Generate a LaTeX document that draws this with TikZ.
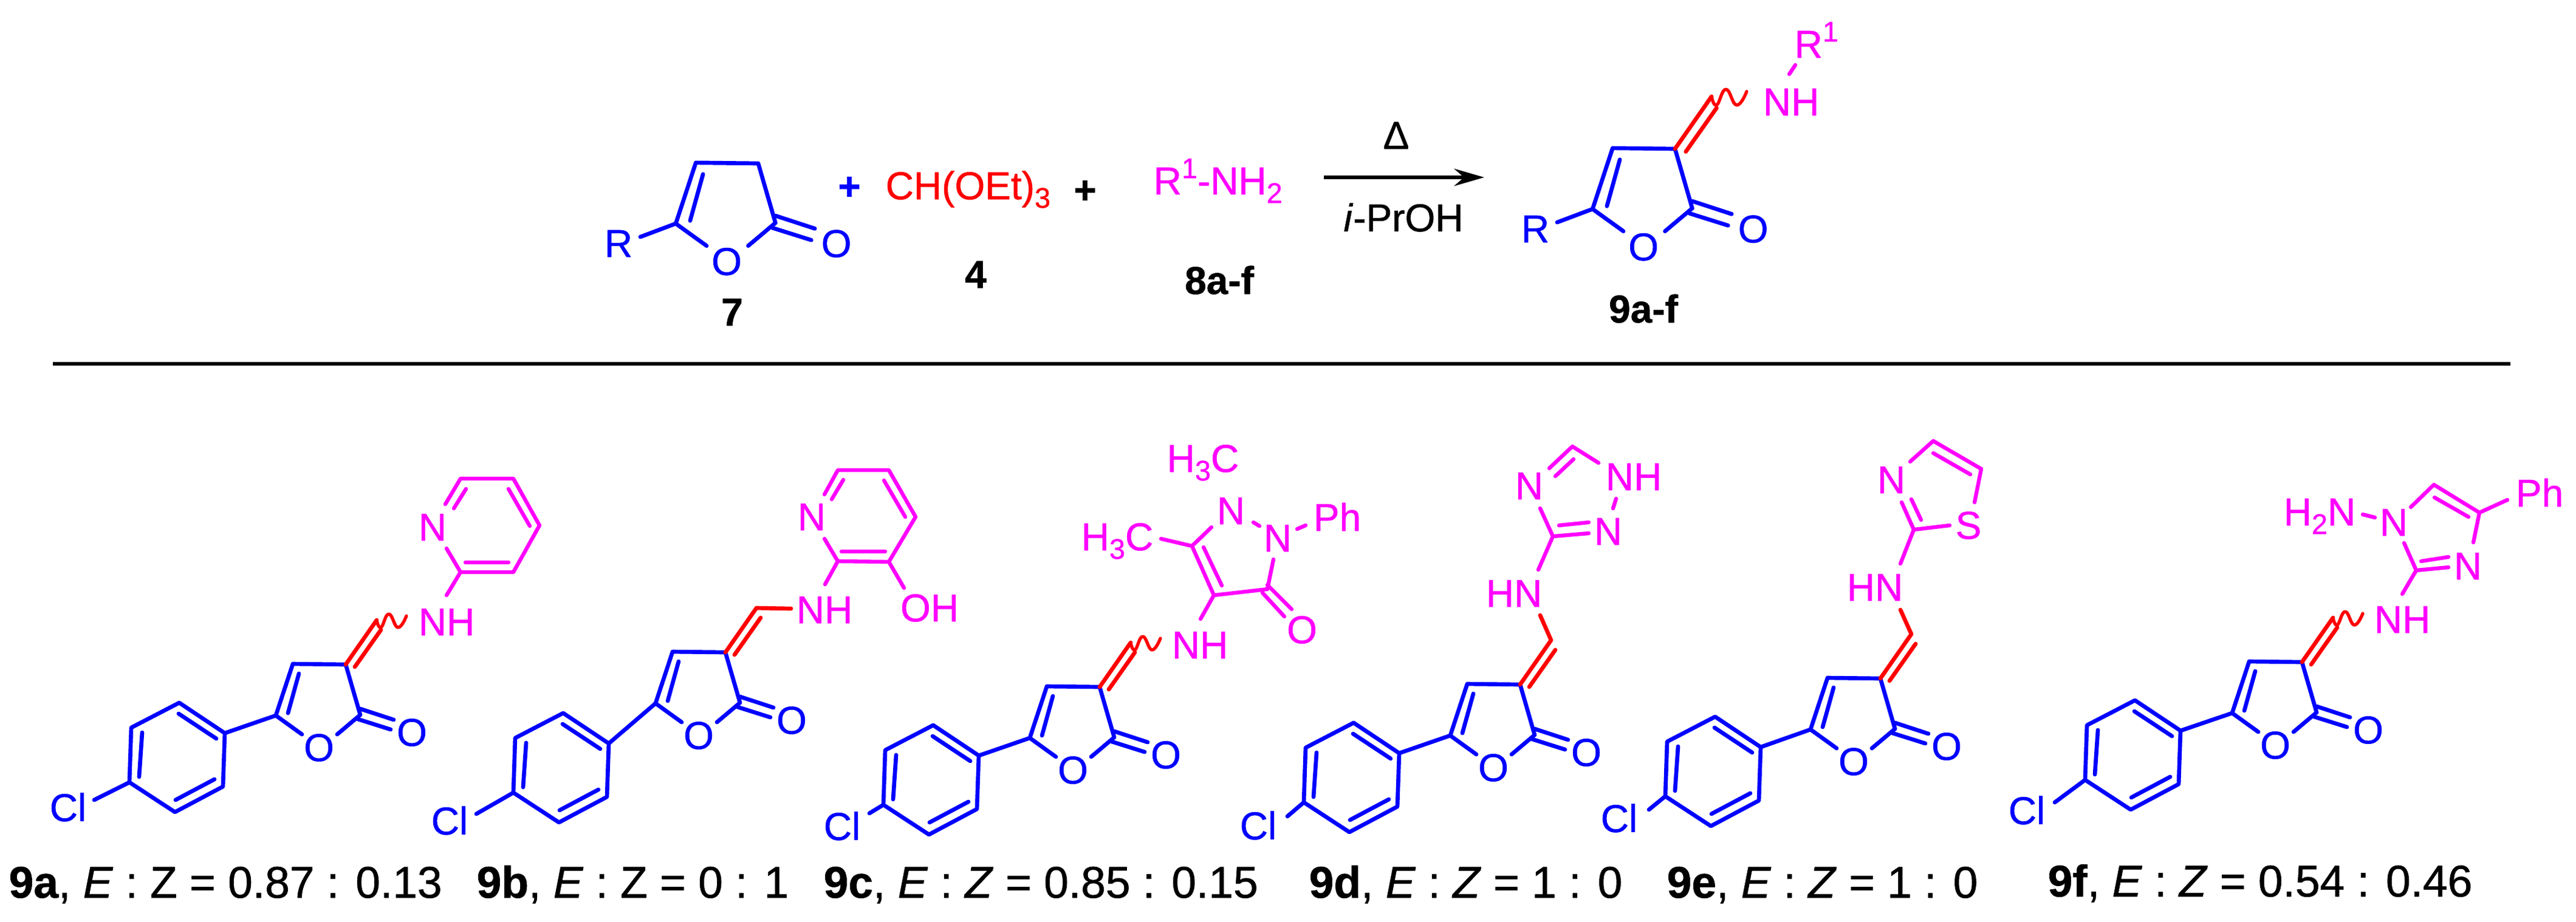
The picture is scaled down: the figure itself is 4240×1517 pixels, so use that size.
\documentclass[tikz,border=0pt]{standalone}
\usepackage{fontspec}
\setmainfont[FakeBold=0.8]{Liberation Sans}
\usetikzlibrary{arrows.meta}
\definecolor{atomblue}{RGB}{0,0,255}
\definecolor{atomred}{RGB}{255,0,0}
\definecolor{atommag}{RGB}{255,0,255}
\newcommand{\subs}[1]{\raisebox{-4pt}{\fontsize{13.3}{14}\selectfont #1}}
\newcommand{\sups}[1]{\raisebox{7.6pt}{\fontsize{13.3}{14}\selectfont #1}}
\tikzset{
	bondb/.style={draw=atomblue, line width=1.9pt},
	bondr/.style={draw=atomred, line width=1.9pt},
	bondm/.style={draw=atommag, line width=1.8pt},
	atomb/.style={text=atomblue, inner sep=0pt, font=\fontsize{18.2}{20}\selectfont},
	atomr/.style={text=atomred, inner sep=0pt, font=\fontsize{18.2}{20}\selectfont},
	atomm/.style={text=atommag, inner sep=0pt, font=\fontsize{18.2}{20}\selectfont},
	compd/.style={inner sep=0pt, anchor=base, font=\fontsize{18.2}{20}\selectfont\bfseries},
	capt/.style={inner sep=0pt, anchor=base west, font=\fontsize{20.8}{22}\selectfont},
	lactone/.pic={
		\path
			(0,0) coordinate (-C3)
			(-87,-1) coordinate (-C4)
			(-115,84) coordinate (-C5)
			(24,83) coordinate (-C2)
		;
		\node[atomb] (-O) at (-44,137) {O};
		\node[atomb] (-Oc) at (109,112) {O};
		\draw[bondb] (-C3)--(-C4)--(-C5)--(-72,115) (-C3)--(-C2)--(-14,115);
		\draw[bondb] (-77,15)--(-95,80) (24,73)--(79,91) (20,90)--(74,107);
	},
	exene/.pic={
		\path (51,-73) coordinate (-exo);
		\draw[bondr] (0,0)--(-exo) (15,4)--(58,-57);
	},
	chlorophenyl/.pic={
		\path
			(0,0) coordinate (-ipso)
			(-75,-50) coordinate (-ot)
			(-154,-9) coordinate (-mt)
			(-157,81) coordinate (-para)
			(-82,130) coordinate (-mb)
			(-3,88) coordinate (-ob)
		;
		\draw[bondb] (-ipso)--(-ot)--(-mt)--(-para)--(-mb)--(-ob)--cycle;
		\draw[bondb] (-76,-32)--(-14,9) (-136,-1)--(-141,72) (-81,110)--(-17,76);
	},
	wavy/.pic={
		\draw[bondr, line width=1.5pt] plot[smooth, tension=.8] coordinates {(0,0) (7,12) (20,-10) (35,12) (49,-7)};
	},
}
\begin{document}
\begin{tikzpicture}[x=0.01cm, y=-0.01cm, line join=round, line cap=round]
	\useasboundingbox (0,0) rectangle (4240,1517);
	% reaction
	\pic[scale=1.18] (sm) at (1248,269) {lactone};
	\node[atomb] (smR) at (1018,401) {R};
	\path (1054,390) coordinate (smRb);
	\draw[bondb] (sm-C5)--(smRb);
	\node[atomb] (plusa) at (1398,310) {\textbf{+}};
	\node[atomr, anchor=base west] (orth) at (1457,328) {CH(OEt)\subs{3}};
	\node[inner sep=0pt, font=\fontsize{18.2}{20}\selectfont] (plusb) at (1786,316) {\textbf{+}};
	\node[atomm, anchor=base west] (amine) at (1898,320) {R\sups{1}-NH\subs{2}};
	\node[inner sep=0pt, font=\fontsize{18.2}{20}\selectfont] (delta) at (2298,223) {Δ};
	\node[inner sep=0pt, font=\fontsize{18.2}{20}\selectfont] (solv) at (2310,358) {\textit{i}-PrOH};
	\path (2179,292) coordinate (arrL) (2443,292) coordinate (arrR);
	\draw[-{Stealth[length=14pt, width=8pt]}, line width=1.9pt, line cap=butt] (arrL)--(arrR);
	\pic[scale=1.18] (pr) at (2757,245) {lactone};
	\pic[scale=1.18] (prx) at (2757,245) {exene};
	\pic[scale=1.18] at (prx-exo) {wavy};
	\node[atomb] (prR) at (2527,377) {R};
	\path (2563,366) coordinate (prRb);
	\draw[bondb] (pr-C5)--(prRb);
	\node[atomm] (prNH) at (2948,168) {NH};
	\node[atomm, anchor=base west] (prRa) at (2953,95) {R\sups{1}};
	\path (2945,122) coordinate (prb) (2955,107) coordinate (prc);
	\draw[bondm] (prb)--(prc);
	\node[compd] (lab7) at (1205,536) {7};
	\node[compd] (lab4) at (1606,474) {4};
	\node[compd] (lab8) at (2007,484) {8a-f};
	\node[compd] (lab9) at (2705,531) {9a-f};
	\path (87,599) coordinate (ruleL) (4132,599) coordinate (ruleR);
	\draw[line width=1.9pt, line cap=butt] (ruleL)--(ruleR);
	% 9a
	\pic (a) at (569,1094) {lactone};
	\pic (ax) at (569,1094) {exene};
	\pic at (ax-exo) {wavy};
	\pic (ap) at (370,1207) {chlorophenyl};
	\draw[bondb] (a-C5)--(ap-ipso);
	\node[atomb] (aCl) at (112,1329) {Cl};
	\path (155,1317) coordinate (aClb);
	\draw[bondb] (ap-para)--(aClb);
	\node[atomm] (aNH) at (735,1024) {NH};
	\node[atomm] (aN) at (712,868) {N};
	\path
		(758,942) coordinate (aC2)
		(758,788) coordinate (aC6)
		(845,788) coordinate (aC5)
		(888,865) coordinate (aC4)
		(845,942) coordinate (aC3)
	;
	\draw[bondm] (735,980)--(aC2) (735,903)--(aC2)--(aC3)--(aC4)--(aC5)--(aC6)--(733,830);
	\draw[bondm] (747,837)--(767,805) (766,926)--(837,926) (837,805)--(872,866);
	\node[capt] (capa) at (14,1478) {\textbf{9a}, \textit{E} : Z = 0.87 : 0.13};
	% 9b
	\pic (b) at (1194,1074) {lactone};
	\pic (bx) at (1194,1074) {exene};
	\pic (bp) at (1002,1224) {chlorophenyl};
	\draw[bondb] (b-C5)--(bp-ipso);
	\node[atomb] (bCl) at (740,1351) {Cl};
	\path (784,1340) coordinate (bClb);
	\draw[bondb] (bp-para)--(bClb);
	\path (1302,1002) coordinate (bex);
	\draw[bondr] (bx-exo)--(bex);
	\node[atomm] (bNH) at (1357,1004) {NH};
	\node[atomm] (bN) at (1336,851) {N};
	\node[atomm] (bOH) at (1530,1001) {OH};
	\path
		(1379,924) coordinate (bC2)
		(1379,774) coordinate (bC6)
		(1463,774) coordinate (bC5)
		(1507,851) coordinate (bC4)
		(1463,925) coordinate (bC3)
	;
	\draw[bondm] (1358,962)--(bC2) (1357,887)--(bC2)--(bC3)--(bC4)--(bC5)--(bC6)--(1357,814) (bC3)--(1488,968);
	\draw[bondm] (1369,822)--(1388,790) (1385,908)--(1457,908) (1455,791)--(1490,851);
	\node[capt] (capb) at (784,1478) {\textbf{9b}, \textit{E} : Z = 0 : 1};
	% 9c
	\pic (c) at (1810,1131) {lactone};
	\pic (cx) at (1810,1131) {exene};
	\pic at (cx-exo) {wavy};
	\pic (cp) at (1611,1244) {chlorophenyl};
	\draw[bondb] (c-C5)--(cp-ipso);
	\node[atomb] (cCl) at (1386,1360) {Cl};
	\path (1431,1339) coordinate (cClb);
	\draw[bondb] (cp-para)--(cClb);
	\node[atomm] (cNH) at (1975,1062) {NH};
	\node[atomm] (cNa) at (2026,841) {N};
	\node[atomm] (cNb) at (2103,886) {N};
	\node[atomm] (cO) at (2143,1037) {O};
	\node[atomm] (cPh) at (2201,851) {Ph};
	\node[atomm, anchor=base west] (cMea) at (1779,906) {H\subs{3}C};
	\node[atomm, anchor=base west] (cMeb) at (1920,777) {H\subs{3}C};
	\path
		(1998,980) coordinate (cC4)
		(2086,970) coordinate (cC3)
		(1962,899) coordinate (cC5)
	;
	\draw[bondm] (1976,1019)--(cC4)--(cC3)--(2096,921) (cC4)--(cC5)--(1994,868) (cC5)--(1911,887);
	\draw[bondm] (2063,860)--(2073,866) (2135,871)--(2149,865);
	\draw[bondm] (1981,901)--(2011,964) (2086,963)--(2126,1003) (2078,976)--(2114,1015);
	\node[capt] (capc) at (1355,1478) {\textbf{9c}, \textit{E} : \textit{Z} = 0.85 : 0.15};
	% 9d
	\pic (d) at (2502,1127) {lactone};
	\pic (dx) at (2502,1127) {exene};
	\pic (dp) at (2303,1240) {chlorophenyl};
	\draw[bondb] (d-C5)--(dp-ipso);
	\node[atomb] (dCl) at (2071,1359) {Cl};
	\path (2119,1344) coordinate (dClb);
	\draw[bondb] (dp-para)--(dClb);
	\path (2535,1013) coordinate (dex);
	\draw[bondr] (dx-exo)--(dex);
	\node[atomm] (dHN) at (2492,977) {HN};
	\node[atomm] (dNa) at (2517,800) {N};
	\node[atomm] (dNH) at (2689,785) {NH};
	\node[atomm] (dNb) at (2647,875) {N};
	\path (2556,883) coordinate (dC3) (2588,735) coordinate (dC5);
	\draw[bondm] (2532,938)--(dC3)--(2535,837) (dC3)--(2615,878) (2566,865)--(2615,860);
	\draw[bondm] (2660,821)--(2655,837) (2550,771)--(dC5)--(2631,762) (2590,756)--(2560,784);
	\node[capt] (capd) at (2154,1478) {\textbf{9d}, \textit{E} : \textit{Z} = 1 : 0};
	% 9e
	\pic (e) at (3095,1117) {lactone};
	\pic (ex) at (3095,1117) {exene};
	\pic (ep) at (2898,1230) {chlorophenyl};
	\draw[bondb] (e-C5)--(ep-ipso);
	\node[atomb] (eCl) at (2665,1347) {Cl};
	\path (2714,1333) coordinate (eClb);
	\draw[bondb] (ep-para)--(eClb);
	\path (3128,1004) coordinate (eex);
	\draw[bondr] (ex-exo)--(eex);
	\node[atomm] (eHN) at (3086,967) {HN};
	\node[atomm] (eN) at (3113,790) {N};
	\node[atomm] (eS) at (3240,865) {S};
	\path (3150,872) coordinate (eC2) (3182,726) coordinate (eC4) (3261,772) coordinate (eC5);
	\draw[bondm] (3128,928)--(eC2)--(3130,827) (eC2)--(3209,865) (3162,856)--(3146,822);
	\draw[bondm] (3144,760)--(eC4)--(eC5)--(3250,827) (3182,746)--(3243,781);
	\node[capt] (cape) at (2743,1478) {\textbf{9e}, \textit{E} : \textit{Z} = 1 : 0};
	% 9f
	\pic (f) at (3789,1090) {lactone};
	\pic (fx) at (3789,1090) {exene};
	\pic at (fx-exo) {wavy};
	\pic (fp) at (3589,1203) {chlorophenyl};
	\draw[bondb] (f-C5)--(fp-ipso);
	\node[atomb] (fCl) at (3336,1334) {Cl};
	\path (3382,1321) coordinate (fClb);
	\draw[bondb] (fp-para)--(fClb);
	\node[atomm] (fNH) at (3954,1020) {NH};
	\node[atomm] (fNa) at (3940,860) {N};
	\node[atomm] (fNb) at (4062,932) {N};
	\node[atomm] (fPh) at (4180,811) {Ph};
	\node[atomm, anchor=base west] (fNH2) at (3758,865) {H\subs{2}N};
	\path (3977,939) coordinate (fC2) (4006,798) coordinate (fC5) (4081,844) coordinate (fC4);
	\draw[bondm] (3954,978)--(fC2)--(3957,894) (fC2)--(4030,934) (3985,924)--(4030,917);
	\draw[bondm] (3968,835)--(fC5)--(fC4)--(4071,893) (fC4)--(4127,823) (4007,819)--(4063,851);
	\draw[bondm] (3889,847)--(3909,852);
	\node[capt] (capf) at (3370,1476) {\textbf{9f}, \textit{E} : \textit{Z} = 0.54 : 0.46};
\end{tikzpicture}
\end{document}
